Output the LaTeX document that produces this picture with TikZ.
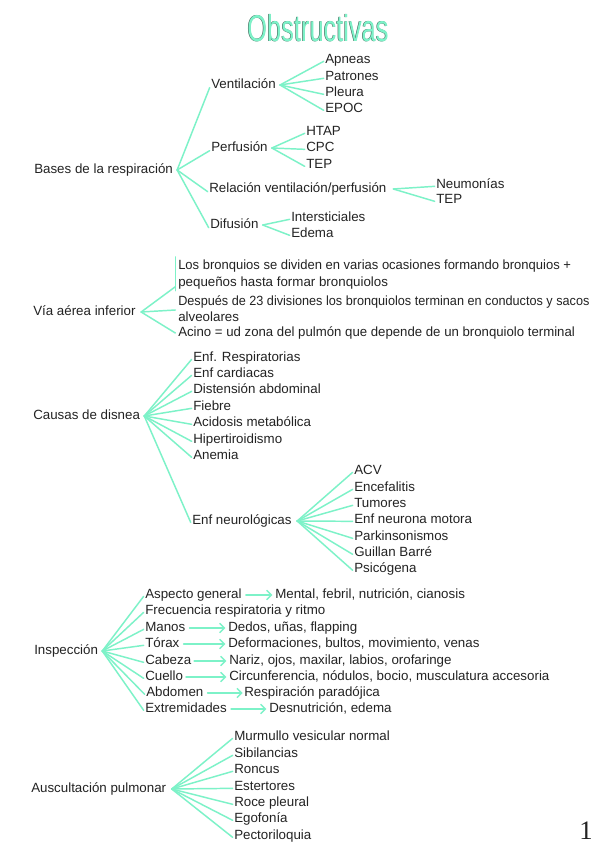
\documentclass[tikz,border=0pt]{standalone}
\usepackage{fontspec}
\setmainfont{Liberation Sans}
\newfontfamily\numfont{Liberation Serif}
\usetikzlibrary{arrows.meta,calc}
\definecolor{mint}{RGB}{125,242,200}
\definecolor{ink}{RGB}{35,35,35}
\definecolor{titleedge}{RGB}{55,85,75}
\begin{document}
\begin{tikzpicture}[x=0.75pt,y=-0.75pt,
  lbl/.style={anchor=west, inner sep=0pt, text height=7.2pt, text depth=2pt, font=\fontsize{10}{12}\selectfont, text=ink},
  br/.style={draw=mint, line width=1.1pt, line cap=round},
  arr/.style={br, -{Straight Barb[length=3.5pt,width=7pt]}},
  ttl/.style={inner sep=0pt, font=\fontsize{28}{30}\selectfont}]
\useasboundingbox (0,0) rectangle (599,848);
\fill[white] (0,0) rectangle (599,848);

% title
\node[ttl, text=titleedge] (titleshadow) at (317.5,28.4) {\scalebox{0.68}[1]{Obstructivas}};
\node[ttl, text=mint] (title) at (318,28) {\scalebox{0.68}[1]{Obstructivas}};

% ---- Bases de la respiracion
\node[lbl] (bases) at (34,170) {Bases de la respiración};
\node[lbl] (vent) at (211,85) {Ventilación};
\node[lbl] (apneas) at (325,60) {Apneas};
\node[lbl] (patrones) at (325,77) {Patrones};
\node[lbl] (pleura) at (325,93) {Pleura};
\node[lbl] (epoc) at (325,109) {EPOC};
\node[lbl] (perf) at (211,148) {Perfusión};
\node[lbl] (htap) at (306,132) {HTAP};
\node[lbl] (cpc) at (306,148) {CPC};
\node[lbl] (tepa) at (306,165) {TEP};
\node[lbl] (rel) at (209,189) {Relación ventilación/perfusión};
\node[lbl] (neum) at (436,185) {Neumonías};
\node[lbl] (tepb) at (436,200) {TEP};
\node[lbl] (dif) at (210,225) {Difusión};
\node[lbl] (inter) at (291,218) {Intersticiales};
\node[lbl] (edema) at (291,234) {Edema};

\foreach \c in {vent,perf,rel,dif}
  \draw[br] ([xshift=3pt]bases.east) -- ([xshift=-1pt,yshift=-2pt]\c.west);
\foreach \c in {apneas,patrones,pleura,epoc}
  \draw[br] ([xshift=3pt]vent.east) -- ([xshift=-1pt,yshift=-1pt]\c.west);
\foreach \c in {htap,cpc,tepa}
  \draw[br] ([xshift=3pt]perf.east) -- ([xshift=-1pt,yshift=-1pt]\c.west);
\foreach \c in {neum,tepb}
  \draw[br] ([xshift=5pt]rel.east) -- ([xshift=-1pt,yshift=-1pt]\c.west);
\foreach \c in {inter,edema}
  \draw[br] ([xshift=3pt]dif.east) -- ([xshift=-1pt,yshift=-1pt]\c.west);

% ---- Via aerea inferior
\node[lbl] (via) at (33,312) {Vía aérea inferior};
\node[lbl] (losa) at (178,266) {\scalebox{0.975}[1]{Los bronquios se dividen en varias ocasiones formando bronquios +}};
\node[lbl] (losb) at (178,283) {pequeños hasta formar bronquiolos};
\node[lbl] (despa) at (178,302) {\scalebox{0.95}[1]{Después de 23 divisiones los bronquiolos terminan en conductos y sacos}};
\node[lbl] (despb) at (178,318) {alveolares};
\node[lbl] (acino) at (178,333) {\scalebox{0.99}[1]{Acino = ud zona del pulmón que depende de un bronquiolo terminal}};
\coordinate (bartop) at ([xshift=-2pt,yshift=2pt]losa.north west);
\coordinate (barbot) at ([xshift=-2pt,yshift=-1pt]losb.south west);
\coordinate (barmid) at ([yshift=3pt]barbot);
\coordinate (despmid) at ($([xshift=-2pt]despa.west)!0.5!([xshift=-2pt]despb.west)$);
\draw[br] (bartop) -- (barbot);
\draw[br] ([xshift=4pt]via.east) -- (barmid);
\draw[br] ([xshift=4pt]via.east) -- (despmid);
\draw[br] ([xshift=4pt]via.east) -- ([xshift=-2pt]acino.west);

% ---- Causas de disnea
\node[lbl] (causas) at (33,416) {Causas de disnea};
\node[lbl] (resp) at (193,358) {Enf. Respiratorias};
\node[lbl] (card) at (193,374) {Enf cardiacas};
\node[lbl] (dist) at (193,390) {Distensión abdominal};
\node[lbl] (fieb) at (193,407) {Fiebre};
\node[lbl] (acid) at (193,423) {Acidosis metabólica};
\node[lbl] (hiper) at (193,440) {Hipertiroidismo};
\node[lbl] (anem) at (193,456) {Anemia};
\node[lbl] (neuro) at (192,521) {Enf neurológicas};
\node[lbl] (acv) at (354,471) {ACV};
\node[lbl] (ence) at (354,488) {Encefalitis};
\node[lbl] (tumo) at (354,504) {Tumores};
\node[lbl] (moto) at (354,520) {Enf neurona motora};
\node[lbl] (park) at (354,537) {Parkinsonismos};
\node[lbl] (guil) at (354,553) {Guillan Barré};
\node[lbl] (psic) at (354,569) {Psicógena};
\foreach \c in {resp,card,dist,fieb,acid,hiper,anem,neuro}
  \draw[br] ([xshift=3pt]causas.east) -- ([xshift=-1pt,yshift=-1pt]\c.west);
\foreach \c in {acv,ence,tumo,moto,park,guil,psic}
  \draw[br] ([xshift=4pt]neuro.east) -- ([xshift=-1pt,yshift=-1pt]\c.west);

% ---- Inspeccion
\node[lbl] (insp) at (34,651) {Inspección};
\node[lbl] (asp) at (145,595) {Aspecto general};
\node[lbl] (ment) at (275,595) {Mental, febril, nutrición, cianosis};
\node[lbl] (frec) at (145,611) {Frecuencia respiratoria y ritmo};
\node[lbl] (manos) at (145,628) {Manos};
\node[lbl] (dedos) at (228,628) {Dedos, uñas, flapping};
\node[lbl] (torax) at (145,644) {Tórax};
\node[lbl] (defo) at (228,644) {Deformaciones, bultos, movimiento, venas};
\node[lbl] (cabeza) at (145,661) {Cabeza};
\node[lbl] (nariz) at (229,661) {Nariz, ojos, maxilar, labios, orofaringe};
\node[lbl] (cuello) at (145,677) {Cuello};
\node[lbl] (circ) at (229,677) {Circunferencia, nódulos, bocio, musculatura accesoria};
\node[lbl] (abdo) at (146,693) {Abdomen};
\node[lbl] (parad) at (244,693) {Respiración paradójica};
\node[lbl] (extr) at (145,709) {Extremidades};
\node[lbl] (desn) at (269,709) {Desnutrición, edema};
\foreach \c in {asp,frec,manos,torax,cabeza,cuello,abdo,extr}
  \draw[br] ([xshift=3pt]insp.east) -- ([xshift=-1pt,yshift=-1pt]\c.west);
\draw[arr] ([xshift=3pt]asp.east) -- ([xshift=-2pt]ment.west);
\draw[arr] ([xshift=3pt]manos.east) -- ([xshift=-2pt]dedos.west);
\draw[arr] ([xshift=3pt]torax.east) -- ([xshift=-2pt]defo.west);
\draw[arr] ([xshift=2pt]cabeza.east) -- ([xshift=-2pt]nariz.west);
\draw[arr] ([xshift=2pt]cuello.east) -- ([xshift=-2pt]circ.west);
\draw[arr] ([xshift=3pt]abdo.east) -- ([xshift=-1pt]parad.west);
\draw[arr] ([xshift=3pt]extr.east) -- ([xshift=-2pt]desn.west);

% ---- Auscultacion pulmonar
\node[lbl] (ausc) at (31,789) {Auscultación pulmonar};
\node[lbl] (murm) at (234,737) {Murmullo vesicular normal};
\node[lbl] (sibi) at (234,754) {Sibilancias};
\node[lbl] (ronc) at (234,770) {Roncus};
\node[lbl] (este) at (234,787) {Estertores};
\node[lbl] (roce) at (234,803) {Roce pleural};
\node[lbl] (egof) at (234,819) {Egofonía};
\node[lbl] (pect) at (234,836) {Pectoriloquia};
\foreach \c in {murm,sibi,ronc,este,roce,egof,pect}
  \draw[br] ([xshift=4pt]ausc.east) -- ([xshift=-1pt,yshift=-1pt]\c.west);

% page number
\node[inner sep=0pt, text=ink, font=\numfont\fontsize{20}{22}\selectfont] (pagenum) at (586,831) {1};
\end{tikzpicture}
\end{document}
